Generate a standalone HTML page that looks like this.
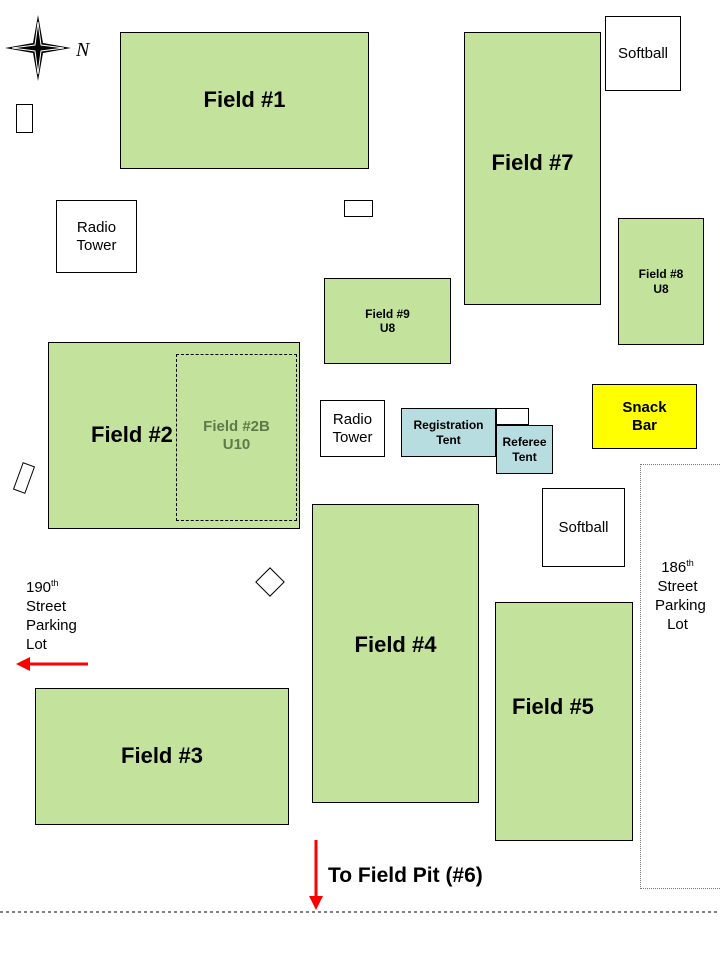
<!DOCTYPE html>
<html><head><style>
body{margin:0;width:720px;height:960px;background:#fff;position:relative;overflow:hidden;font-family:"Liberation Sans",Arial,sans-serif}
.b{position:absolute;box-sizing:border-box;border:1px solid #000;display:flex;align-items:center;justify-content:center;text-align:center;line-height:1.2}
.g{background:#c3e29b}
.f{font-weight:bold;font-size:22px}
.s{font-weight:bold;font-size:12px}
.w{background:#fff;font-size:15px}
.t{position:absolute;font-size:15px;line-height:19px}
</style></head><body>
<div class="b g f" style="left:120px;top:32px;width:249px;height:137px">Field #1</div>
<div class="b g f" style="left:464px;top:32px;width:137px;height:273px;padding-bottom:10px">Field #7</div>
<div class="b w" style="left:605px;top:16px;width:76px;height:75px">Softball</div>
<div class="b" style="left:16px;top:104px;width:17px;height:29px"></div>
<div class="b w" style="left:56px;top:200px;width:81px;height:73px">Radio<br>Tower</div>
<div class="b" style="left:344px;top:200px;width:29px;height:17px"></div>
<div class="b g s" style="left:618px;top:218px;width:86px;height:127px">Field #8<br>U8</div>
<div class="b g s" style="left:324px;top:278px;width:127px;height:86px">Field #9<br>U8</div>
<div class="b g f" style="left:48px;top:342px;width:252px;height:187px;justify-content:flex-start;padding-left:42px">Field #2</div>
<div class="b" style="left:176px;top:354px;width:121px;height:167px;border:1px dashed #000;color:#5f7a4a;font-weight:bold;font-size:15px;padding-bottom:4px">Field #2B<br>U10</div>
<div class="b w" style="left:320px;top:400px;width:65px;height:57px">Radio<br>Tower</div>
<div class="b s" style="left:401px;top:408px;width:95px;height:49px;background:#b7dde0">Registration<br>Tent</div>
<div class="b" style="left:496px;top:408px;width:33px;height:17px;background:#fff"></div>
<div class="b s" style="left:496px;top:425px;width:57px;height:49px;background:#b7dde0">Referee<br>Tent</div>
<div class="b" style="left:592px;top:384px;width:105px;height:65px;background:#ffff00;font-weight:bold;font-size:15px">Snack<br>Bar</div>
<div class="b w" style="left:542px;top:488px;width:83px;height:79px">Softball</div>
<div class="b" style="left:640px;top:464px;width:82px;height:425px;border:1px dotted #777"></div>
<div class="t" style="left:655px;top:554px;text-align:center;width:45px">186<sup style="font-size:9px">th</sup><br>Street<br>Parking<br>Lot</div>
<div class="b g f" style="left:312px;top:504px;width:167px;height:299px;padding-bottom:16px">Field #4</div>
<div class="b g f" style="left:495px;top:602px;width:138px;height:239px;align-items:flex-start;padding-top:91px;justify-content:flex-start;padding-left:16px">Field #5</div>
<div class="b g f" style="left:35px;top:688px;width:254px;height:137px">Field #3</div>
<div class="t" style="left:26px;top:574px">190<sup style="font-size:9px">th</sup><br>Street<br>Parking<br>Lot</div>
<div style="position:absolute;left:328px;top:864px;font-weight:bold;font-size:21px">To Field Pit (#6)</div>
<svg width="720" height="960" style="position:absolute;left:0;top:0">
<g transform="translate(38,48)">
<path d="M0,-33 L5,-5 L33,0 L5,5 L0,33 L-5,5 L-33,0 L-5,-5Z" fill="#000"/>
<path d="M0,-26 L3,-3 L26,0 L3,3 L0,26 L-3,3 L-26,0 L-3,-3Z" fill="none" stroke="#fff" stroke-width="1"/>
</g>
<text x="76" y="56" font-family="Liberation Serif" font-style="italic" font-size="20">N</text>
<rect x="-6" y="-14" width="12" height="28" fill="#fff" stroke="#000" transform="translate(24,478) rotate(20)"/>
<rect x="-10" y="-10" width="20" height="20" fill="#fff" stroke="#000" transform="translate(270,582) rotate(45)"/>
<line x1="88" y1="664" x2="28" y2="664" stroke="#f00" stroke-width="3"/>
<path d="M16,664 L30,657 L30,671Z" fill="#f00"/>
<line x1="316" y1="840" x2="316" y2="898" stroke="#f00" stroke-width="3"/>
<path d="M316,910 L309,896 L323,896Z" fill="#f00"/>
<line x1="0" y1="912" x2="720" y2="912" stroke="#000" stroke-dasharray="3,3"/>
</svg>
</body></html>
